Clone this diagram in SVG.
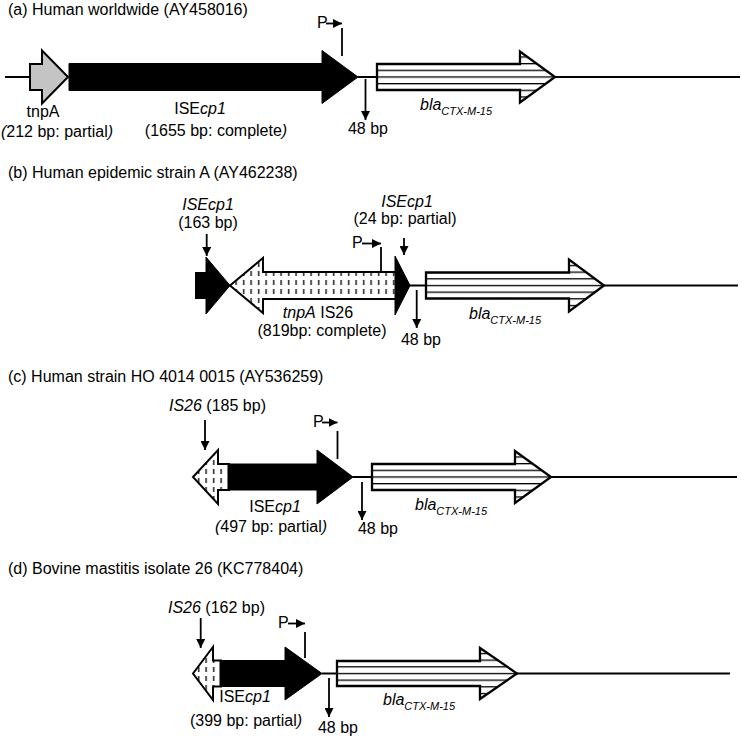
<svg xmlns="http://www.w3.org/2000/svg" width="742" height="739" viewBox="0 0 742 739">
<style>
text{font-family:"Liberation Sans",Arial,sans-serif;font-size:16px;fill:#000}
.it{font-style:italic}
.sub{font-size:11px;font-style:italic}
.mid{text-anchor:middle}
.bb{stroke:#000;stroke-width:1.8;fill:none}
.ins{stroke:#000;stroke-width:1.8;fill:none;marker-end:url(#ah)}
.pl{stroke:#000;stroke-width:1.8;fill:none}
.blk{fill:#000;stroke:#000;stroke-width:1}
.gry{fill:#c4c4c4;stroke:#000;stroke-width:2}
.dot{fill:url(#dots);stroke:#000;stroke-width:2}
.hat{stroke:#000;stroke-width:2.3}
</style>
<defs>
<marker id="ah" viewBox="0 0 10 10" refX="10" refY="5" markerWidth="9" markerHeight="9" markerUnits="userSpaceOnUse" orient="auto"><path d="M0,0 L10,5 L0,10 z" fill="#000"/></marker>
<pattern id="dots" patternUnits="userSpaceOnUse" width="7.5" height="9"><rect width="7.5" height="9" fill="#fff"/><rect x="3" y="1" width="1.3" height="5" fill="#000"/></pattern>
<pattern id="hA" patternUnits="userSpaceOnUse" x="0" y="76.35" width="10" height="6.667"><rect width="10" height="6.667" fill="#fff"/><rect width="10" height="1.3" fill="#000"/></pattern>
<pattern id="hB" patternUnits="userSpaceOnUse" x="0" y="284.85" width="10" height="6.667"><rect width="10" height="6.667" fill="#fff"/><rect width="10" height="1.3" fill="#000"/></pattern>
<pattern id="hC" patternUnits="userSpaceOnUse" x="0" y="476.35" width="10" height="6.667"><rect width="10" height="6.667" fill="#fff"/><rect width="10" height="1.3" fill="#000"/></pattern>
<pattern id="hD" patternUnits="userSpaceOnUse" x="0" y="672.85" width="10" height="6.667"><rect width="10" height="6.667" fill="#fff"/><rect width="10" height="1.3" fill="#000"/></pattern>
</defs>

<g id="titles">
<text x="8" y="15">(a) Human worldwide (AY458016)</text>
<text x="8" y="178">(b) Human epidemic strain A (AY462238)</text>
<text x="8" y="382">(c) Human strain HO 4014 0015 (AY536259)</text>
<text x="8" y="574">(d) Bovine mastitis isolate 26 (KC778404)</text>
</g>

<g id="connectors">
<path class="bb" d="M5,77 H31 M358,77 H378 M555,77 H740"/>
<path class="bb" d="M409,285.5 H427 M604,285.5 H738"/>
<path class="bb" d="M353,477 H373 M551,477 H737"/>
<path class="bb" d="M322,673.5 H338 M517,673.5 H730"/>
<path class="ins" d="M365.5,79 V120"/>
<path class="ins" d="M206.7,234 V256"/>
<path class="ins" d="M404,238 V255"/>
<path class="ins" d="M416.7,290 V328"/>
<path class="ins" d="M205,420 V450"/>
<path class="ins" d="M362,482 V520"/>
<path class="ins" d="M200.7,618 V648"/>
<path class="ins" d="M329,678 V717"/>
<path class="ins" d="M326,23.5 H342"/><path class="pl" d="M342,28 V56"/>
<path class="ins" d="M362,243.5 H381"/><path class="pl" d="M381,247 V272"/>
<path class="ins" d="M322,422.5 H337.5"/><path class="pl" d="M337.5,431 V459"/>
<path class="ins" d="M288,623.5 H305"/><path class="pl" d="M305,632 V658"/>
</g>

<g id="a-tnpA">
<polygon class="gry" points="30,64 42,64 42,50.5 68,77 42,103.5 42,90 30,90"/>
<text class="mid" x="43" y="117">tnpA</text>
<text class="mid" x="57" y="137"><tspan class="it">(</tspan>212 bp: partial<tspan class="it">)</tspan></text>
</g>
<g id="a-ISEcp1">
<polygon class="blk" points="69,63.5 322,63.5 322,50.5 358,77 322,103.5 322,90.5 69,90.5"/>
<text class="mid" x="200" y="114">ISE<tspan class="it">cp1</tspan></text>
<text class="mid" x="216" y="136">(1655 bp: complete<tspan class="it">)</tspan></text>
</g>
<g id="a-P"><text x="317" y="28">P</text></g>
<g id="a-48bp"><text class="mid" x="368" y="134">48 bp</text></g>
<g id="a-bla">
<polygon class="hat" fill="url(#hA)" points="377,64 520,64 520,51.5 555,77 520,102.5 520,90 377,90"/>
<text class="it" x="420" y="110">bla<tspan class="sub" dy="5">CTX-M-15</tspan></text>
</g>

<g id="b-ISEcp1-left">
<rect x="195" y="272" width="12" height="27" fill="#000"/>
<polygon class="blk" points="206,257 230,285.5 206,314"/>
<text class="it mid" x="208" y="210">ISEcp1</text>
<text class="mid" x="208" y="228">(163 bp)</text>
</g>
<g id="b-tnpA-IS26">
<polygon class="dot" points="230,285.5 263,258 263,272 396,272 396,299 263,299 263,313"/>
<text class="mid" x="318" y="318"><tspan class="it">tnpA</tspan> IS26</text>
<text class="mid" x="322" y="336">(819bp: complete)</text>
</g>
<g id="b-ISEcp1-right">
<polygon class="blk" points="395,256 410,285.5 395,315"/>
<text class="it mid" x="407" y="207">ISEcp1</text>
<text class="mid" x="405" y="224">(24 bp: partial)</text>
</g>
<g id="b-P"><text x="352" y="248">P</text></g>
<g id="b-48bp"><text class="mid" x="421" y="345">48 bp</text></g>
<g id="b-bla">
<polygon class="hat" fill="url(#hB)" points="426,272.5 569,272.5 569,259.5 604,285.5 569,311.5 569,298.5 426,298.5"/>
<text class="it" x="469" y="318.5">bla<tspan class="sub" dy="5">CTX-M-15</tspan></text>
</g>

<g id="c-IS26">
<polygon class="dot" points="193,477 218,450 218,464 229,464 229,490 218,490 218,504"/>
<text x="169" y="411"><tspan class="it">IS26</tspan> (185 bp)</text>
</g>
<g id="c-ISEcp1">
<polygon class="blk" points="228,464 317,464 317,450 353,477 317,504 317,490 228,490"/>
<text class="mid" x="275" y="512">ISE<tspan class="it">cp1</tspan></text>
<text class="mid" x="271" y="532"><tspan class="it">(</tspan>497 bp: partial<tspan class="it">)</tspan></text>
</g>
<g id="c-P"><text x="313" y="427">P</text></g>
<g id="c-48bp"><text class="mid" x="378" y="534">48 bp</text></g>
<g id="c-bla">
<polygon class="hat" fill="url(#hC)" points="372,464 515,464 515,451 551,477 515,503 515,490 372,490"/>
<text class="it" x="415" y="510">bla<tspan class="sub" dy="5">CTX-M-15</tspan></text>
</g>

<g id="d-IS26">
<polygon class="dot" points="193,673.5 213,647 213,660.5 221,660.5 221,686.5 213,686.5 213,700"/>
<text x="168" y="613"><tspan class="it">IS26</tspan> (162 bp)</text>
</g>
<g id="d-ISEcp1">
<polygon class="blk" points="220,660.5 285,660.5 285,647 322,673.5 285,700 285,686.5 220,686.5"/>
<text class="mid" x="245" y="702">ISE<tspan class="it">cp1</tspan></text>
<text class="mid" x="246" y="726">(399 bp: partial<tspan class="it">)</tspan></text>
</g>
<g id="d-P"><text x="278" y="628">P</text></g>
<g id="d-48bp"><text class="mid" x="338" y="733">48 bp</text></g>
<g id="d-bla">
<polygon class="hat" fill="url(#hD)" points="337,661 480,661 480,648 517,673.5 480,699 480,686 337,686"/>
<text class="it" x="383" y="705">bla<tspan class="sub" dy="5">CTX-M-15</tspan></text>
</g>
</svg>
